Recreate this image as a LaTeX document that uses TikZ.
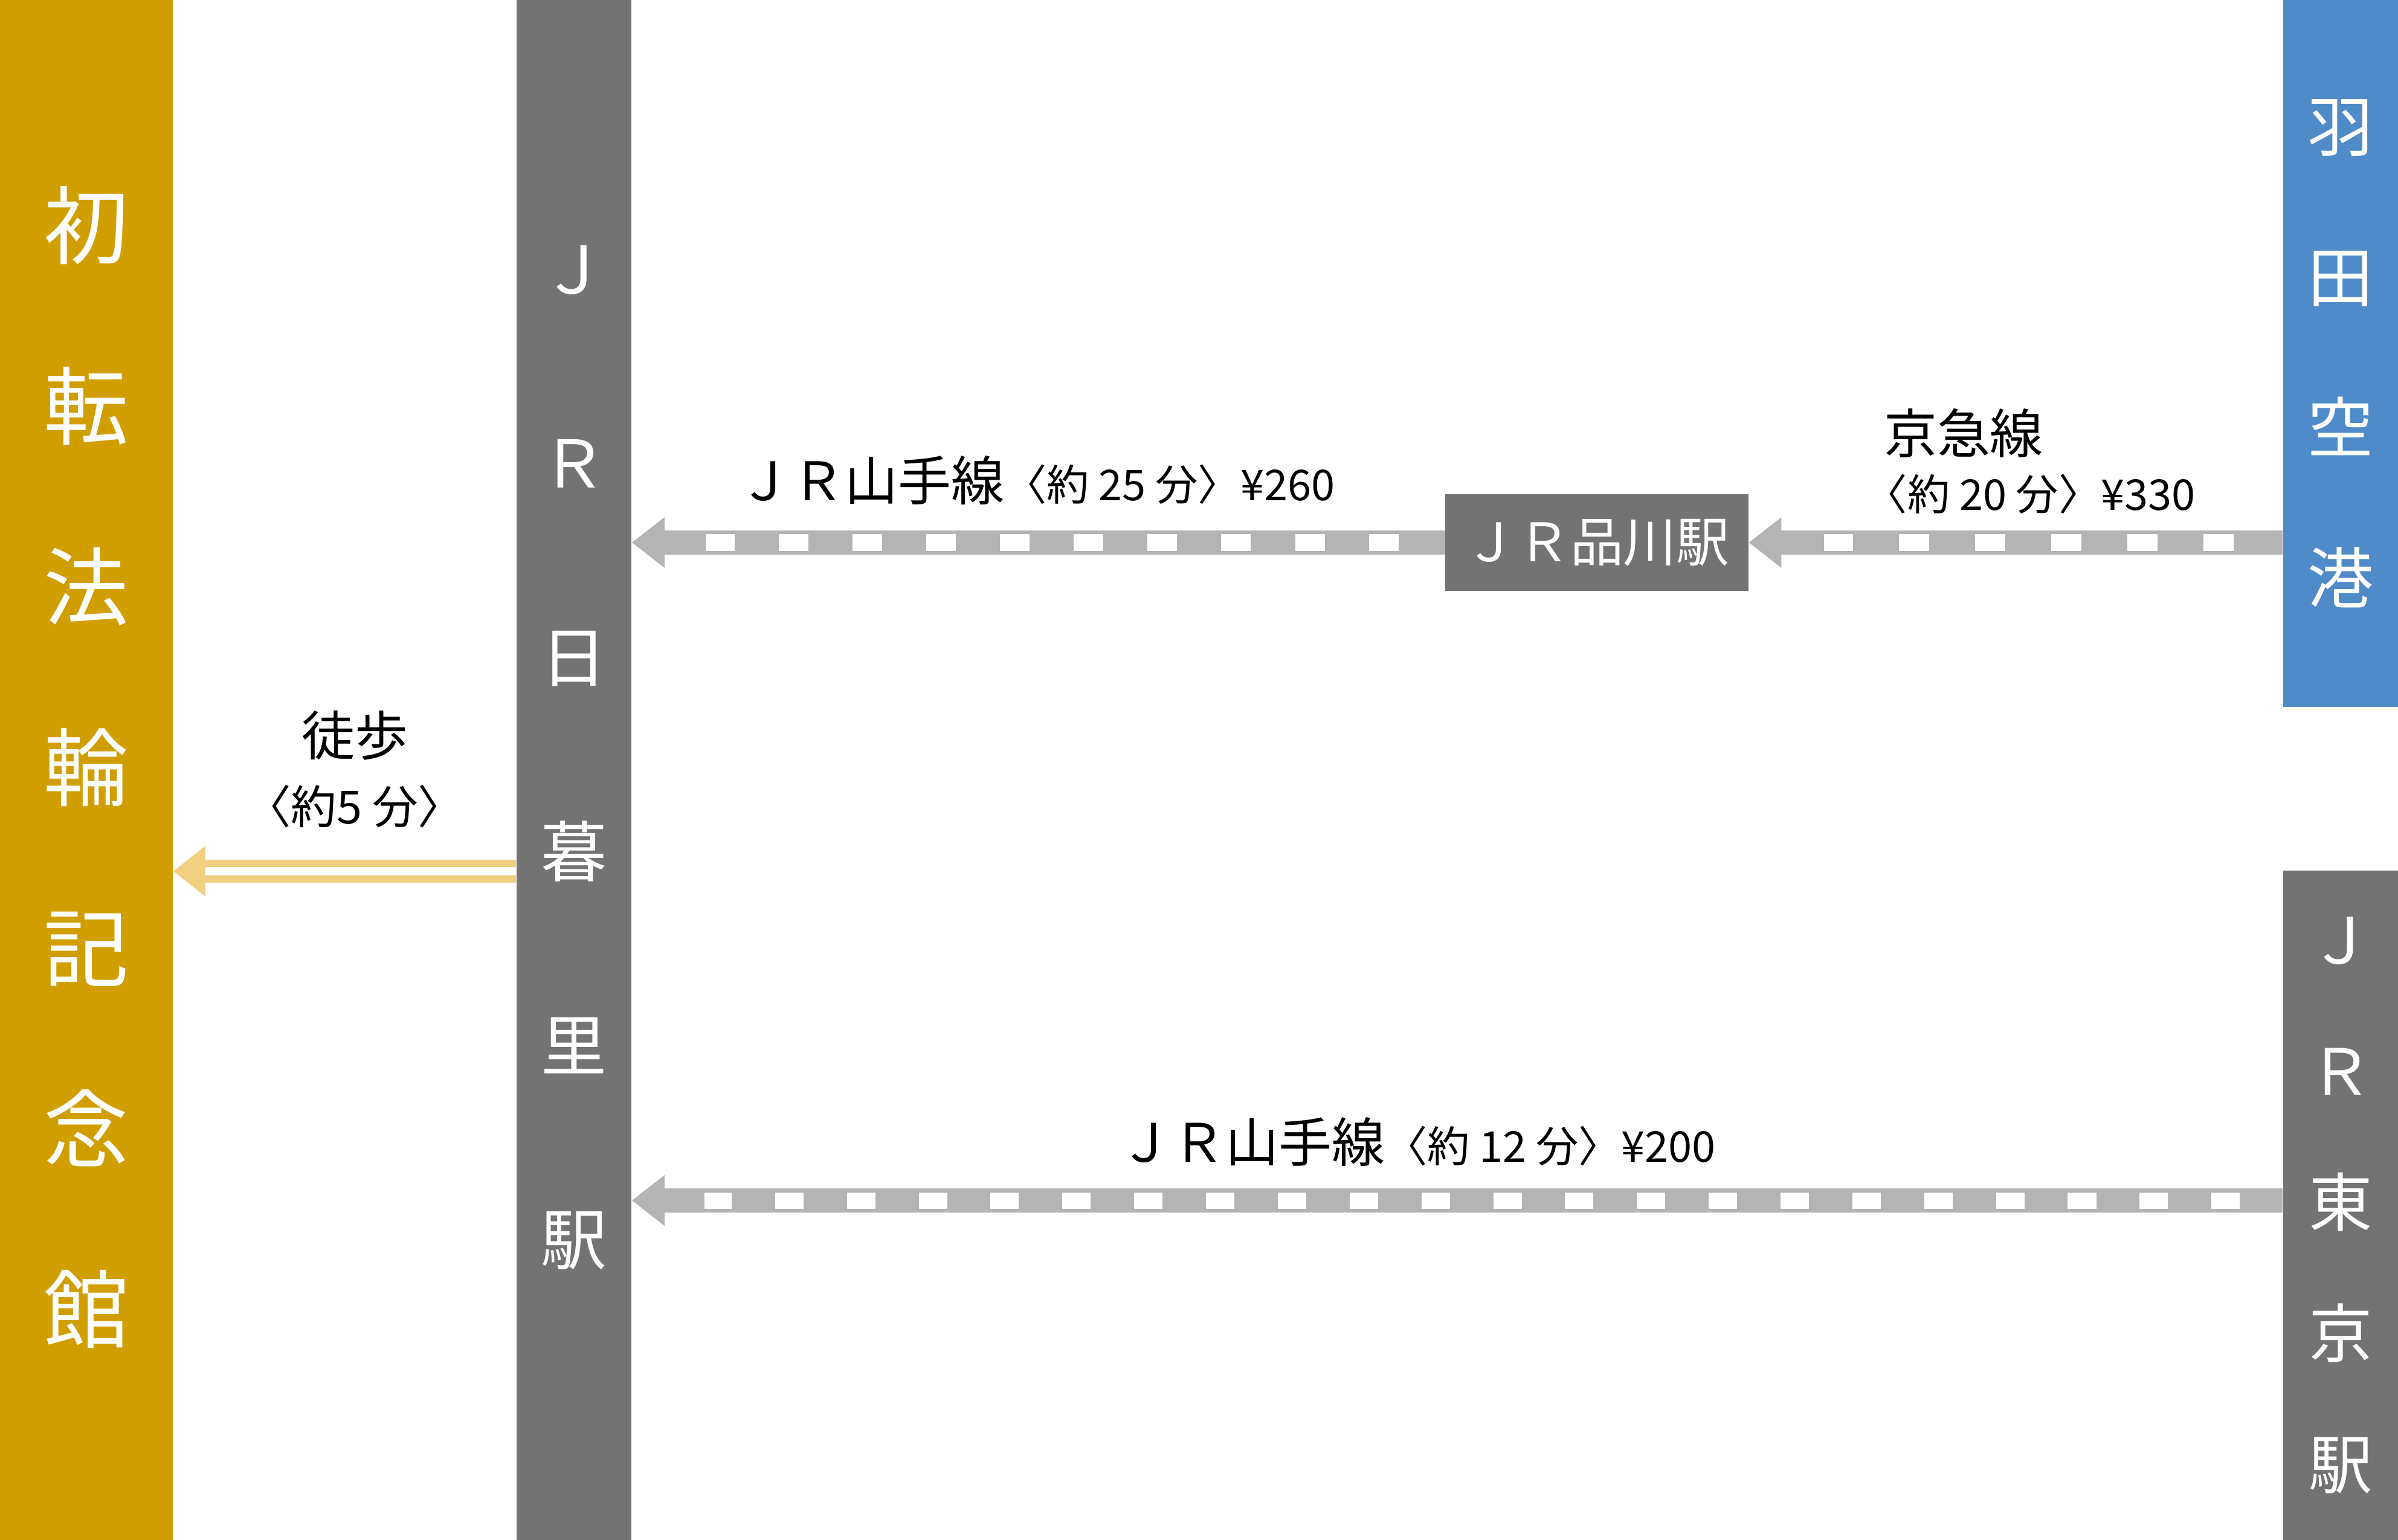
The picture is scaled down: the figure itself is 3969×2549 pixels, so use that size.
\documentclass[tikz,border=0pt]{standalone}
\usepackage{fontspec}
\setmainfont{Noto Sans CJK JP}
\usetikzlibrary{arrows.meta}

\definecolor{hallgold}{RGB}{209,158,0}
\definecolor{stationgray}{RGB}{115,115,115}
\definecolor{skyblue}{RGB}{79,139,201}
\definecolor{railgray}{RGB}{180,180,180}
\definecolor{walkgold}{RGB}{240,208,128}

\tikzset{
	bar/.style={fill=#1, inner sep=0pt, text=white, align=center},
	lbl/.style={inner sep=0pt, font=\fontsize{25pt}{30pt}\selectfont},
	rail/.style n args={4}{draw=railgray, line width=.4cm, -{Triangle[length=.54cm,width=.8cm]},
		postaction={draw=white, -, line width=.27cm, dash pattern=on #1 off #2, shorten <=#3, shorten >=#4}},
	walk/.style={draw=walkgold, line width=.38cm, -{Triangle[length=.53cm,width=.8cm]},
		postaction={draw=white, -, line width=.14cm, shorten >=.53cm}}
}
\newcommand\fare[1]{{\fontsize{20pt}{24pt}\selectfont #1}}

\begin{document}
\begin{tikzpicture}[x=0.01cm, y=-0.01cm]
	\useasboundingbox (0,0) rectangle (3969,2549);
	% stations
	\node[bar=hallgold, minimum width=2.86cm, minimum height=25.6cm, font=\fontsize{40pt}{85pt}\selectfont] (hall) at (143,1270) {初\\転\\法\\輪\\記\\念\\館};
	\node[bar=stationgray, minimum width=1.9cm, minimum height=25.9cm, font=\fontsize{31pt}{91.3pt}\selectfont] (nippori) at (950,1254) {Ｊ\\Ｒ\\日\\暮\\里\\駅};
	\node[bar=skyblue, minimum width=1.9cm, minimum height=11.7cm, font=\fontsize{31pt}{70.8pt}\selectfont] (haneda) at (3874,585) {羽\\田\\空\\港};
	\node[bar=stationgray, minimum width=1.9cm, minimum height=11.08cm, font=\fontsize{30pt}{61.7pt}\selectfont] (tokyo) at (3874,1995) {Ｊ\\Ｒ\\東\\京\\駅};
	\node[bar=stationgray, minimum width=5.01cm, minimum height=1.6cm, font=\fontsize{25pt}{30pt}\selectfont] (shinagawa) at (2643,898) {ＪＲ品川駅};

	% lines
	\draw[rail={.49cm}{.73cm}{.77cm}{1.22cm}] (shinagawa.west) -- (shinagawa.west -| nippori.east);
	\draw[rail={.50cm}{.76cm}{.81cm}{1.25cm}] (shinagawa.east -| haneda.west) -- (shinagawa.east);
	\coordinate (yamanote) at ([yshift=.08cm]tokyo.west);
	\draw[rail={.47cm}{.718cm}{.71cm}{1.20cm}] (yamanote) -- (yamanote -| nippori.east);
	\coordinate (walkfrom) at (nippori.west |- 0,1442);
	\draw[walk] (walkfrom) -- (walkfrom -| hall.east);

	% labels
	\node[lbl] (lineA) at (1716,795) {ＪＲ山手線\fare{〈約 25 分〉¥260}};
	\node[lbl] (keikyu) at (3250,717) {京急線};
	\node[lbl, anchor=west] (keikyufare) at (3086,818) {\fare{〈約 20 分〉¥330}};
	\node[lbl] (lineB) at (2346,1890) {ＪＲ山手線\fare{〈約 12 分〉¥200}};
	\node[lbl] (walktext) at (587,1217) {徒歩};
	\node[lbl] (walktime) at (587,1335) {{\fontsize{21.5pt}{26pt}\selectfont 〈約5 分〉}};
\end{tikzpicture}
\end{document}
